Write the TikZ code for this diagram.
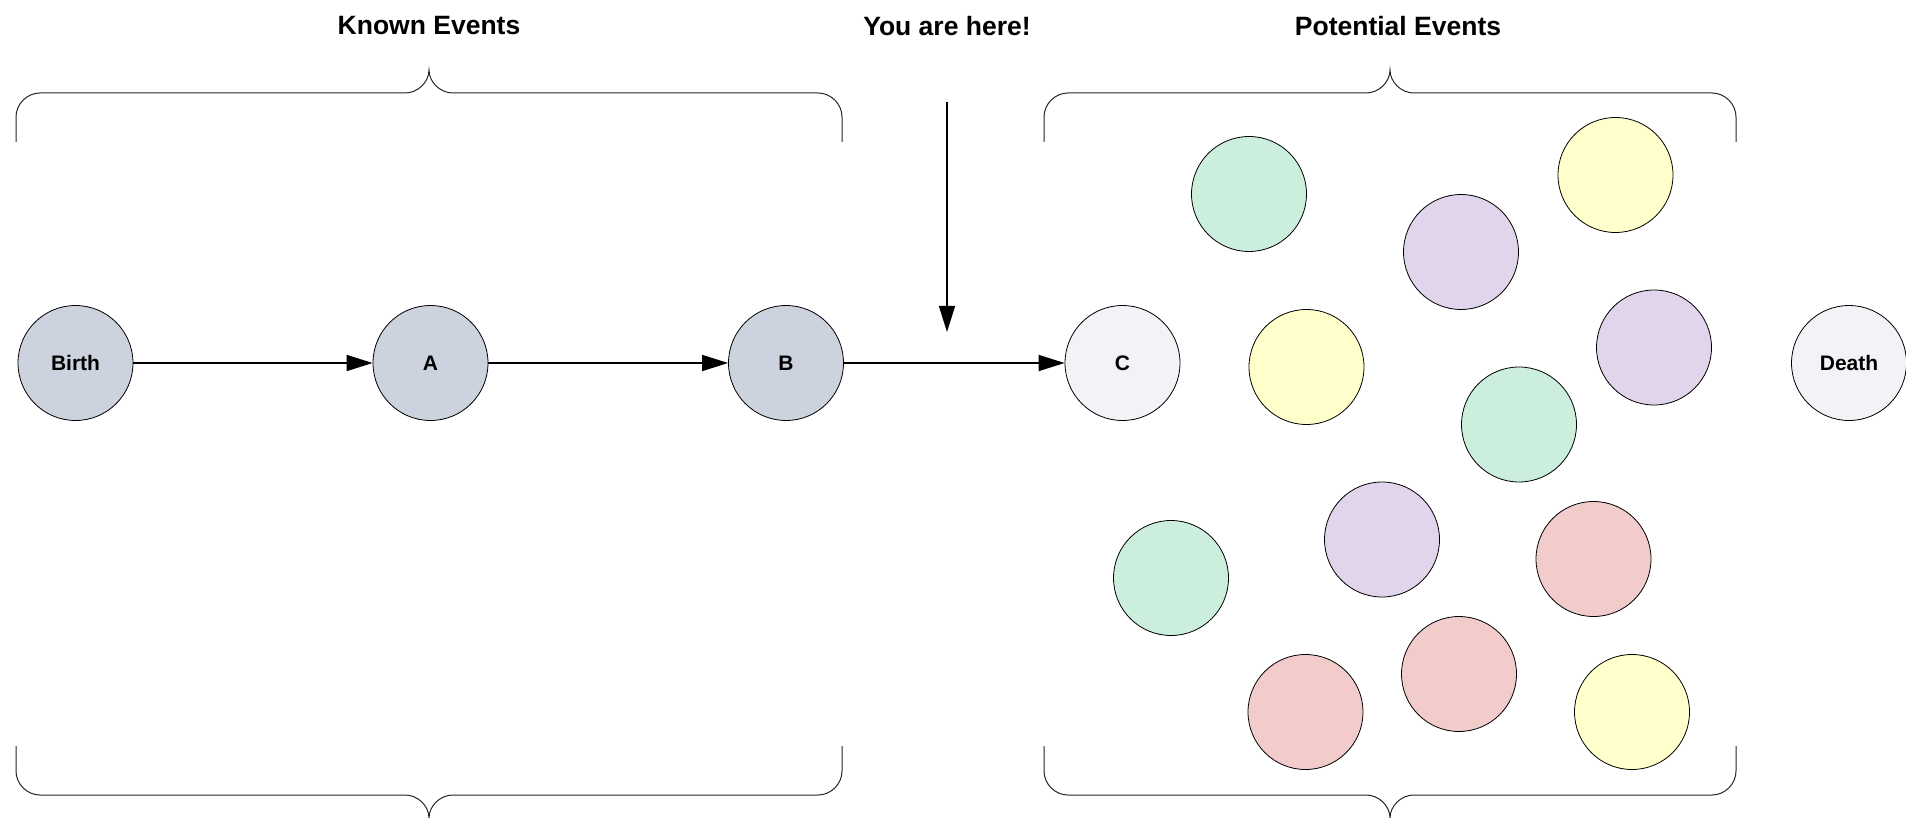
\documentclass[tikz,border=0pt]{standalone}
\usepackage{fontspec}
\setmainfont{Liberation Sans}
\usetikzlibrary{arrows.meta}
\definecolor{knownfill}{HTML}{CDD2DF}
\definecolor{futurefill}{HTML}{F2F3F7}
\definecolor{evgreen}{HTML}{CCEEDC}
\definecolor{evyellow}{HTML}{FFFFCC}
\definecolor{evpurple}{HTML}{E1D5EC}
\definecolor{evpink}{HTML}{F2CBCB}
\newcommand{\mybracetop}[3]{%
  \draw[bracepath] (#1,142) -- (#1,117) .. controls (#1,104) and ({#1+11},93) .. ({#1+24},93)
    -- ({#3-24},93) .. controls ({#3-11},93) and (#3,82) .. (#3,70)
    .. controls (#3,82) and ({#3+11},93) .. ({#3+24},93)
    -- ({#2-24},93) .. controls ({#2-11},93) and (#2,104) .. (#2,117) -- (#2,142);}
\newcommand{\mybracebot}[3]{%
  \draw[bracepath] (#1,746) -- (#1,771) .. controls (#1,784) and ({#1+11},795) .. ({#1+24},795)
    -- ({#3-24},795) .. controls ({#3-11},795) and (#3,806) .. (#3,818)
    .. controls (#3,806) and ({#3+11},795) .. ({#3+24},795)
    -- ({#2-24},795) .. controls ({#2-11},795) and (#2,784) .. (#2,771) -- (#2,746);}
\begin{document}
\begin{tikzpicture}[x=1pt,y=-1pt,
  event/.style={circle,draw=black,line width=0.8pt,minimum size=115pt,inner sep=0pt,
    font=\fontsize{21}{25}\selectfont\bfseries},
  known/.style={event,fill=knownfill},
  future/.style={event,fill=futurefill},
  title/.style={font=\fontsize{26.5}{31}\selectfont\bfseries,inner sep=0pt},
  arr/.style={line width=1.5pt,-{Triangle[length=26pt,width=16pt]}},
  bracepath/.style={draw=black!85,line width=1pt}]
\useasboundingbox (0,0) rectangle (1906,818);
\fill[white] (0,0) rectangle (1906,818);

% titles
\node[title] (tknown) at (429,26) {Known Events};
\node[title] (there) at (947,26) {You are here!};
\node[title] (tpot) at (1398,26) {Potential Events};

% braces
\mybracetop{16}{842}{429}
\mybracetop{1044}{1736}{1390}
\mybracebot{16}{842}{429}
\mybracebot{1044}{1736}{1390}

% timeline
\node[known] (birth) at (75.5,363) {Birth};
\node[known] (A) at (430.5,363) {A};
\node[known] (B) at (786,363) {B};
\node[future] (C) at (1122.5,363) {C};
\node[future] (death) at (1849,363) {Death};

\draw[arr] (birth) -- (A);
\draw[arr] (A) -- (B);
\draw[arr] (B) -- (C);

\coordinate (ytop) at (947,102);
\coordinate (ybot) at (947,332);
\draw[arr] (ytop) -- (ybot);

% potential events
\node[event,fill=evgreen]  (p1)  at (1249,194) {};
\node[event,fill=evpurple] (p2)  at (1461,252) {};
\node[event,fill=evyellow] (p3)  at (1615.5,175) {};
\node[event,fill=evyellow] (p4)  at (1306.5,367) {};
\node[event,fill=evpurple] (p5)  at (1654,347.5) {};
\node[event,fill=evgreen]  (p6)  at (1519,424.5) {};
\node[event,fill=evgreen]  (p7)  at (1171,578) {};
\node[event,fill=evpurple] (p8)  at (1382,539.5) {};
\node[event,fill=evpink]   (p9)  at (1593.5,559) {};
\node[event,fill=evpink]   (p10) at (1305.5,712) {};
\node[event,fill=evpink]   (p11) at (1459,674) {};
\node[event,fill=evyellow] (p12) at (1632,712) {};
\end{tikzpicture}
\end{document}
